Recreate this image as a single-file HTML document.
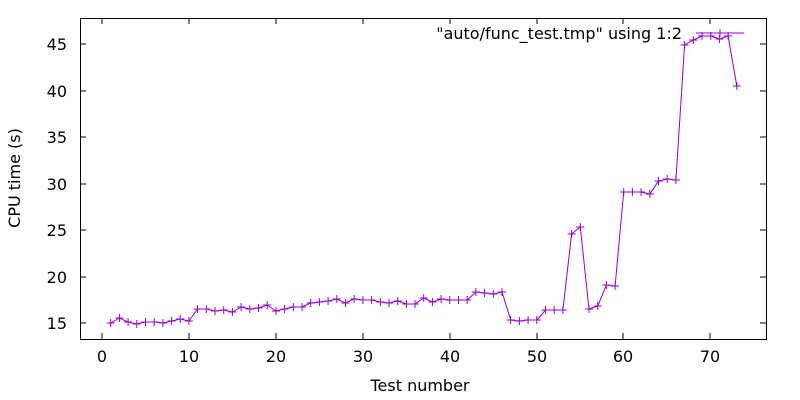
<!DOCTYPE html>
<html><head><style>body{margin:0;background:#fff}svg{display:block;font-family:"DejaVu Sans","Liberation Sans",sans-serif;font-size:16px}</style></head><body>
<svg width="800" height="400" xmlns="http://www.w3.org/2000/svg">
<defs>
<marker id="pl" markerUnits="userSpaceOnUse" markerWidth="10" markerHeight="10" refX="5" refY="5" overflow="visible">
<path d="M1,5h8M5,1v8" stroke="#9400d3" stroke-width="1" fill="none"/>
</marker>
</defs>
<rect x="80.5" y="18.5" width="686" height="321" fill="none" stroke="#000"/>
<g stroke="#000">
<path d="M102,339v-6M189,339v-6M276,339v-6M363,339v-6M450,339v-6M537,339v-6M623,339v-6M710,339v-6M102,18v6M189,18v6M276,18v6M363,18v6M450,18v6M537,18v6M623,18v6M710,18v6"/>
<path d="M80,323h6M80,277h6M80,230h6M80,184h6M80,137h6M80,91h6M80,44h6M766,323h-6M766,277h-6M766,230h-6M766,184h-6M766,137h-6M766,91h-6M766,44h-6"/>
</g>
<g text-anchor="end">
<text x="67" y="329">15</text><text x="67" y="283">20</text><text x="67" y="236">25</text><text x="67" y="190">30</text><text x="67" y="143">35</text><text x="67" y="97">40</text><text x="67" y="50">45</text>
</g>
<g text-anchor="middle">
<text x="102" y="362">0</text><text x="189" y="362">10</text><text x="276" y="362">20</text><text x="363" y="362">30</text><text x="450" y="362">40</text><text x="537" y="362">50</text><text x="623" y="362">60</text><text x="710" y="362">70</text>
<text x="420" y="391">Test number</text>
<text transform="translate(20,178) rotate(-90)">CPU time (s)</text>
</g>
<text x="682" y="39" text-anchor="end">"auto/func_test.tmp" using 1:2</text>
<line x1="696" y1="33" x2="744" y2="33" stroke="#9400d3"/>
<path d="M716,33h8M720,29v8" stroke="#9400d3"/>
<polyline fill="none" stroke="#9400d3" marker-start="url(#pl)" marker-mid="url(#pl)" marker-end="url(#pl)" points="110.7,323 119.4,318 128.1,322 136.8,324 145.5,322 154.2,322 162.9,323 171.6,321 180.2,319 188.9,321 197.6,309 206.3,309 215,311 223.7,310 232.4,312 241.1,307 249.8,309 258.5,308 267.2,305 275.9,311 284.6,309 293.3,307 302,307 310.7,303 319.4,302 328.1,301 336.8,299 345.5,303 354.2,299 362.9,300 371.6,300 380.3,302 389,303 397.7,301 406.4,304 415,304 423.7,298 432.4,302 441.1,299 449.8,300 458.5,300 467.2,300 475.9,292 484.6,293 493.3,294 502,292 510.7,320 519.4,321 528.1,320 536.8,320 545.5,310 554.2,310 562.9,310 571.6,234 580.3,227 589,309 597.7,306 606.4,285 615.1,286 623.7,192 632.4,192 641.1,192 649.8,194 658.5,181 667.2,179 675.9,180 684.6,45 693.3,40 702,36 710.7,36 719.4,39 728.1,36 736.8,86"/>
</svg>
</body></html>
